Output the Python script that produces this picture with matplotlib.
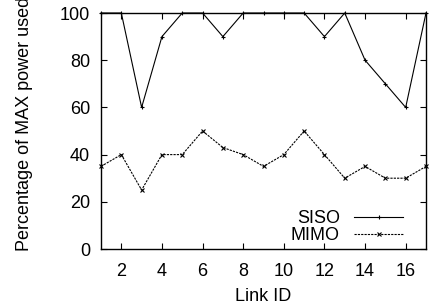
import numpy as np
import matplotlib.pyplot as plt

plt.rcParams['font.family'] = ['Liberation Sans', 'DejaVu Sans']
plt.rcParams['font.size'] = 13

link_ids = np.arange(1, 18)
siso = [100, 100, 60, 90, 100, 100, 90, 100, 100, 100, 100, 90, 100, 80, 70, 60, 100]
mimo = [35, 40, 25, 40, 40, 50, 43, 40, 35, 40, 50, 40, 30, 35, 30, 30, 35]

fig = plt.figure(figsize=(4.43, 3.07), dpi=100)
ax = fig.add_axes([101 / 443, 1 - 249 / 307, 325 / 443, 236 / 307])

ax.plot(link_ids, siso, color='black', lw=0.8, marker='+', ms=3.5, mew=0.8,
        label='SISO', clip_on=False)
ax.plot(link_ids, mimo, color='black', lw=0.8, ls=(0, (2, 1)), marker='x', ms=3.5,
        mew=0.8, label='MIMO', clip_on=False)

ax.set_xlim(1, 17)
ax.set_ylim(0, 100)
ax.set_xticks(range(2, 17, 2))
ax.set_yticks(range(0, 101, 20))
ax.tick_params(direction='in', top=True, right=True, length=4, width=0.8)
ax.tick_params(axis='x', pad=10)
ax.tick_params(axis='y', pad=8)
for s in ax.spines.values():
    s.set_linewidth(1.0)

ax.set_xlabel('Link ID', labelpad=6)
fig.text(25 / 443, 1 - 124 / 307, 'Percentage of MAX power used', rotation=90,
         ha='center', va='center')

ax.legend(loc='lower right', bbox_to_anchor=(0.929, 0.02), frameon=False,
          markerfirst=False, handlelength=2.7, handletextpad=0.8,
          borderpad=0, borderaxespad=0, labelspacing=0.0)

fig.savefig('out.png', dpi=100)
